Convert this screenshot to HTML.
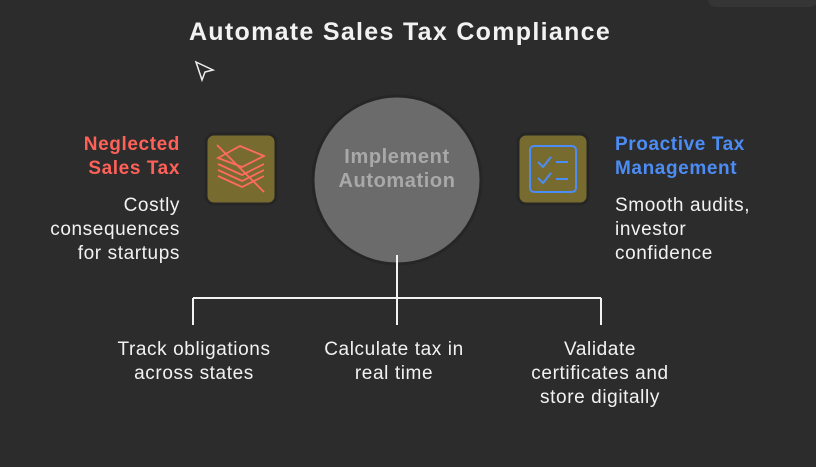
<!DOCTYPE html>
<html><head><style>
body{margin:0;width:816px;height:467px;background:#2c2c2c;overflow:hidden;position:relative;font-family:"Liberation Sans",sans-serif;color:#f2f2f2}
.t{position:absolute;font-size:19px;line-height:24px;letter-spacing:0.6px}
</style></head><body>
<div style="position:absolute;left:708px;top:-10px;width:110px;height:17px;background:#353535;border-radius:8px"></div>
<div class="t" style="left:0;width:800px;text-align:center;top:17px;font-size:25px;font-weight:bold;line-height:30px;letter-spacing:1.3px">Automate Sales Tax Compliance</div>
<svg width="816" height="467" style="position:absolute;left:0;top:0">
<path d="M196 62 L213 70 L205 72 L202 80 Z" fill="none" stroke="#eee" stroke-width="1.5"/>
<circle cx="397" cy="180" r="84" fill="#6b6b6b" stroke="#262626" stroke-width="3"/>
<rect x="206" y="134" width="70" height="70" rx="8" fill="#786b2f" stroke="#262626" stroke-width="3"/>
<rect x="518" y="134" width="70" height="70" rx="8" fill="#786b2f" stroke="#262626" stroke-width="3"/>
<g stroke="#ff6b5e" stroke-width="1.8" fill="none">
<path d="M218 158 L240 146 L264 156 L242 167 Z"/>
<path d="M218 164 L242 175 L264 164"/><path d="M218 170 L242 181 L264 170"/><path d="M218 176 L242 187 L264 176"/>
<path d="M217 145 L264 192"/>
</g>
<g stroke="#4c8cf5" stroke-width="2" fill="none">
<rect x="530" y="146" width="46" height="46" rx="4"/>
<path d="M538 162 L543 167 L551 157 M556 162 L568 162 M538 178 L543 183 L551 173 M556 179 L568 179"/>
</g>
<g stroke="#f2f2f2" stroke-width="2" fill="none">
<path d="M397 255 V298 M193 298 H601 M193 298 V325 M397 298 V325 M601 298 V325"/>
</g>
</svg>
<div class="t" style="left:314px;width:166px;top:145px;text-align:center;font-size:20px;font-weight:bold;color:#a9a9a9">Implement<br>Automation</div>
<div class="t" style="left:0px;width:180px;text-align:right;top:133px;font-weight:bold;color:#ff6158">Neglected<br>Sales Tax</div>
<div class="t" style="left:0px;width:180px;text-align:right;top:194px">Costly<br>consequences<br>for startups</div>
<div class="t" style="left:615px;width:200px;top:133px;font-weight:bold;color:#4c8cf5">Proactive Tax<br>Management</div>
<div class="t" style="left:615px;width:200px;top:194px">Smooth audits,<br>investor<br>confidence</div>
<div class="t" style="left:74px;width:240px;text-align:center;top:338px">Track obligations<br>across states</div>
<div class="t" style="left:284px;width:220px;text-align:center;top:338px">Calculate tax in<br>real time</div>
<div class="t" style="left:490px;width:220px;text-align:center;top:338px">Validate<br>certificates and<br>store digitally</div>
</body></html>
